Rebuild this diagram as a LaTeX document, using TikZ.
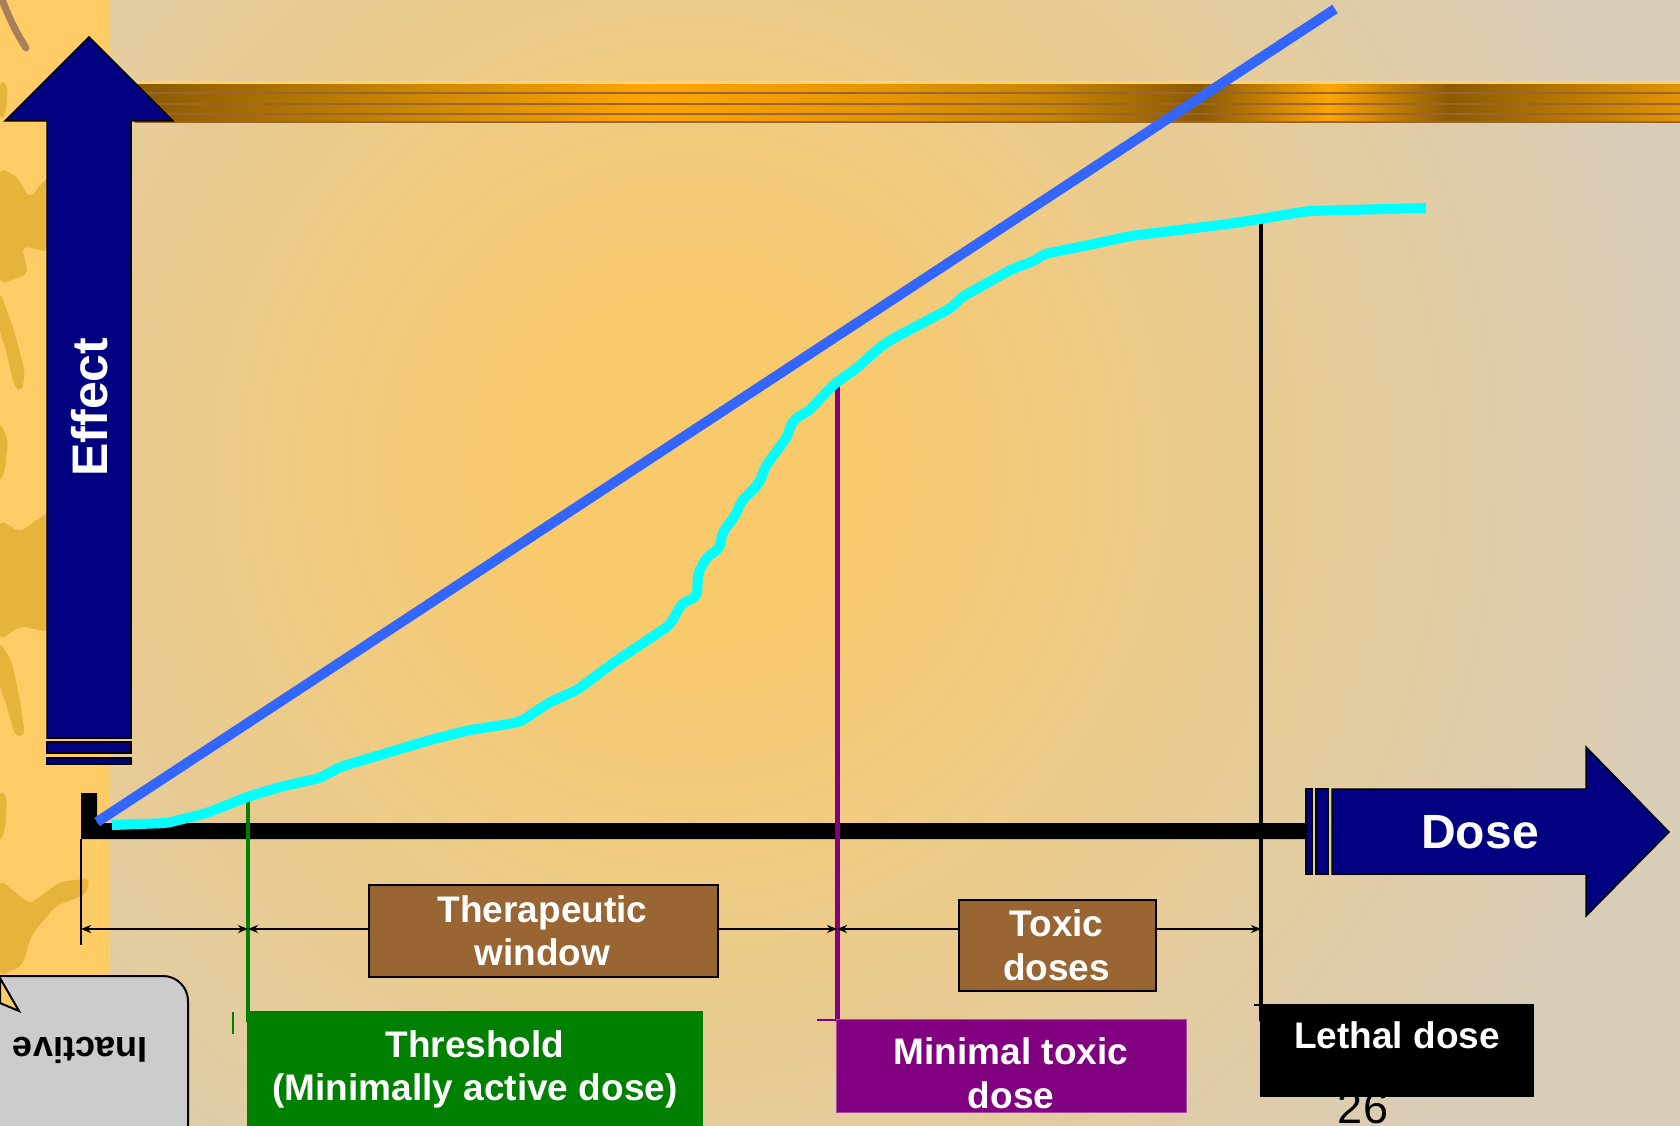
\documentclass[tikz,border=0pt]{standalone}
\usepackage{fontspec}
\setmainfont{Liberation Sans}
\usetikzlibrary{arrows.meta}
\definecolor{bgin}{HTML}{F9CA6C}
\definecolor{bgout}{HTML}{D8CDB8}
\definecolor{stripfill}{HTML}{FFCC66}
\definecolor{blobfill}{HTML}{E6B43A}
\definecolor{navyfill}{HTML}{000080}
\definecolor{goldA}{HTML}{8B5A00}
\definecolor{goldB}{HTML}{C98500}
\definecolor{goldC}{HTML}{FFA500}
\definecolor{goldD}{HTML}{E39400}
\definecolor{goldrim}{HTML}{996633}
\definecolor{goldtop}{HTML}{FFD27A}
\definecolor{boxbrown}{HTML}{996633}
\definecolor{threshgreen}{HTML}{008000}
\definecolor{toxpurple}{HTML}{800080}
\definecolor{idealblue}{HTML}{3366FF}
\definecolor{respcyan}{HTML}{00FFFF}
\definecolor{calloutgrey}{HTML}{CCCCCC}
\tikzstyle{blob} = [blobfill, rounded corners=6]
\tikzstyle{bigarrow} = [fill=navyfill, draw=black, line width=1.5]
\tikzstyle{dimline} = [line width=1.5, <->, >={Stealth[length=10pt,width=8pt,inset=3pt]}]
\tikzstyle{lbl} = [text=white, font=\fontsize{37}{44}\selectfont\bfseries, inner sep=0]
\tikzstyle{axislbl} = [text=white, font=\fontsize{48}{56}\selectfont\bfseries, inner sep=0]
\newcommand{\lblbox}[5]{
 \node[#1, minimum width=#3, minimum height=#4, anchor=north west, inner sep=0] (#5) at (#2) {};
}
\newcommand{\goldpiece}[4]{
 \shade[left color=#3, right color=#4] (#1,83) rectangle (#2,123);
}
\begin{document}
\begin{tikzpicture}[x=1pt,y=-1pt]
    \useasboundingbox (0,0) rectangle (1680,1126);
    \clip (0,0) rectangle (1680,1126);

    % backdrop
    \fill[bgout] (110,0) rectangle (1680,1126);
    \begin{scope}
     \clip (110,0) rectangle (1680,1126);
     \foreach \i in {0,...,80} {
      \pgfmathsetmacro\rad{1000-10.5*\i}
      \pgfmathsetmacro\pct{\i*1.25}
      \fill[bgin!\pct!bgout] (690,470) circle (\rad);
     }
    \end{scope}
    \fill[stripfill] (0,0) rectangle (110,1126);
    \fill[blob] (0,80) -- (8,86) -- (6,114) -- (0,120) -- cycle;
    \fill[blob] (0,168) -- (16,176) -- (30,198) -- (48,176) -- (48,252) -- (22,246) -- (28,274) -- (0,284) -- cycle;
    \fill[blob] (0,292) -- (14,330) -- (25,372) -- (22,392) -- (14,386) -- (5,346) -- (0,334) -- cycle;
    \fill[blob] (0,422) -- (8,440) -- (5,470) -- (0,482) -- cycle;
    \fill[blob] (0,520) -- (20,532) -- (48,512) -- (48,632) -- (20,626) -- (0,640) -- cycle;
    \fill[blob] (0,642) -- (12,662) -- (20,700) -- (25,736) -- (15,736) -- (5,700) -- (0,690) -- cycle;
    \fill[blob] (0,790) -- (7,796) -- (5,830) -- (0,842) -- cycle;
    \fill[blob] (0,880) -- (30,904) -- (60,882) -- (90,878) -- (86,894) -- (56,906) -- (32,934) -- (22,966) -- (0,976) -- cycle;
    \draw[line width=7, line cap=round, color=brown!60!gray] (3,2) .. controls (10,20) and (16,32) .. (26,48);

    % title bar
    \goldpiece{135}{400}{goldA}{goldB}
    \goldpiece{399}{650}{goldB}{goldC}
    \goldpiece{649}{900}{goldC}{goldD}
    \goldpiece{899}{1050}{goldD}{goldB}
    \goldpiece{1049}{1200}{goldB}{goldA}
    \goldpiece{1199}{1330}{goldA}{goldC}
    \goldpiece{1329}{1450}{goldC}{goldA}
    \goldpiece{1449}{1680}{goldA}{goldD}
    \draw[goldtop, line width=3] (135,82.5) -- (1680,82.5);
    \foreach \y in {93,104,114,122}
     \draw[goldrim, line width=2] (135,\y) -- (1680,\y);

    % effect axis
    \draw[bigarrow] (47,738) -- (47,121) -- (5,121) -- (89,37) -- (173,121) -- (131,121) -- (131,738) -- cycle;
    \draw[bigarrow] (47,742) rectangle (131,753);
    \draw[bigarrow] (47,758) rectangle (131,764);
    \node[axislbl, rotate=90, anchor=base, font=\fontsize{50}{58}\selectfont\bfseries] (effectlbl) at (107,407) {Effect};

    % dose axis
    \fill[black] (81,793) -- (97,793) -- (97,823) -- (1306,823) -- (1306,839) -- (81,839) -- cycle;
    \draw[bigarrow] (1306,789) rectangle (1312,874);
    \draw[bigarrow] (1316,789) rectangle (1328,874);
    \draw[bigarrow] (1332,789) -- (1586,789) -- (1586,747) -- (1669,832) -- (1586,916) -- (1586,874) -- (1332,874) -- cycle;
    \node[axislbl, anchor=base] (doselbl) at (1480,848) {Dose};

    % marker lines
    \coordinate (zeroTop) at (81,839);   \coordinate (zeroBot) at (81,945);
    \coordinate (thrTop) at (248,793);   \coordinate (thrBot) at (248,1022);
    \coordinate (mtdTop) at (837,384);   \coordinate (mtdBot) at (837,1020);
    \coordinate (ldTop) at (1261,219);   \coordinate (ldBot) at (1261,1020);
    \draw[line width=2] (zeroTop) -- (zeroBot);
    \draw[threshgreen, line width=4] (thrTop) -- (thrBot);
    \draw[threshgreen, line width=1.5] (233,1012) -- (233,1034);
    \draw[toxpurple, line width=5, line cap=round] (mtdTop) -- (mtdBot);
    \draw[toxpurple, line width=1.5] (817,1020) -- (837,1020);
    \draw[black, line width=4, line cap=round] (ldTop) -- (ldBot);
    \draw[black, line width=1.5] (1254,1005) -- (1303,1005);

    % ranges
    \coordinate (dimA) at (81,929);
    \coordinate (dimB) at (248,929);
    \coordinate (dimC) at (837,929);
    \coordinate (dimD) at (1261,929);
    \draw[dimline] (dimA) -- (dimB);
    \draw[dimline] (dimB) -- (dimC);
    \draw[dimline] (dimC) -- (dimD);
    \lblbox{fill=boxbrown, draw=black, line width=2}{368,884}{349}{92}{therbox}
    \node[lbl, anchor=base] (therA) at (542.5,922) {Therapeutic};
    \node[lbl, anchor=base] (therB) at (542.5,965) {window};
    \lblbox{fill=boxbrown, draw=black, line width=2}{958,899}{197}{91}{toxbox}
    \node[lbl, anchor=base] (toxA) at (1056.5,936) {Toxic};
    \node[lbl, anchor=base] (toxB) at (1056.5,980) {doses};

    % curves
    \coordinate (idealA) at (97,822);
    \coordinate (idealB) at (1335,9);
    \draw[idealblue, line width=10] (idealA) -- (idealB);
    \draw[respcyan, line width=10, rounded corners=6]
      (112,825) -- (167,823) -- (207,813) -- (247,797) -- (280,787) -- (320,778) -- (340,767)
      -- (380,755) -- (430,740) -- (470,730) -- (490,727) -- (520,722) -- (550,702) -- (577,690)
      -- (613,663) -- (670,625) -- (682,603) -- (697,597) -- (698,573) -- (707,557) -- (720,548)
      -- (722,533) -- (737,513) -- (740,503) -- (760,482) -- (765,467) -- (787,437) -- (792,422)
      -- (800,415) -- (808,412) -- (830,388) -- (837,382) -- (857,368) -- (880,347) -- (894,338)
      -- (951,308) -- (962,297) -- (1012,269) -- (1034,261) -- (1044,254) -- (1094,244)
      -- (1130,236) -- (1228,224) -- (1260,219) -- (1308,211) -- (1426,208);

    % dose labels
    \lblbox{fill=threshgreen}{247,1011}{456}{130}{thrbox}
    \node[lbl, anchor=base] (thrA) at (475,1057) {Threshold};
    \node[lbl, anchor=base] (thrB) at (475,1100) {(Minimally active dose)};
    \lblbox{fill=toxpurple, draw=toxpurple!70!white, line width=1}{836,1019}{350}{93}{mtdbox}
    \node[lbl, anchor=base] (mtdA) at (1011,1064) {Minimal toxic};
    \node[lbl, anchor=base] (mtdB) at (1011,1108) {dose};
    \node[anchor=base, inner sep=0, font=\fontsize{45}{54}\selectfont] (slidenum) at (1363,1123) {26};
    \lblbox{fill=black}{1260,1004}{274}{93}{ldbox}
    \node[lbl, anchor=base] (ldA) at (1397,1048) {Lethal dose};

    % inactive callout
    \lblbox{fill=calloutgrey, draw=black, line width=2, rounded corners=25}{-40,975}{227}{190}{inactbox}
    \filldraw[fill=stripfill, draw=black, line width=2] (0,978) -- (19,1011) -- (0,1003) -- cycle;
    \node[text=black, font=\fontsize{36}{43}\selectfont\bfseries, inner sep=0, rotate=180, anchor=base] (inactlbl) at (80,1037) {Inactive};
\end{tikzpicture}
\end{document}
